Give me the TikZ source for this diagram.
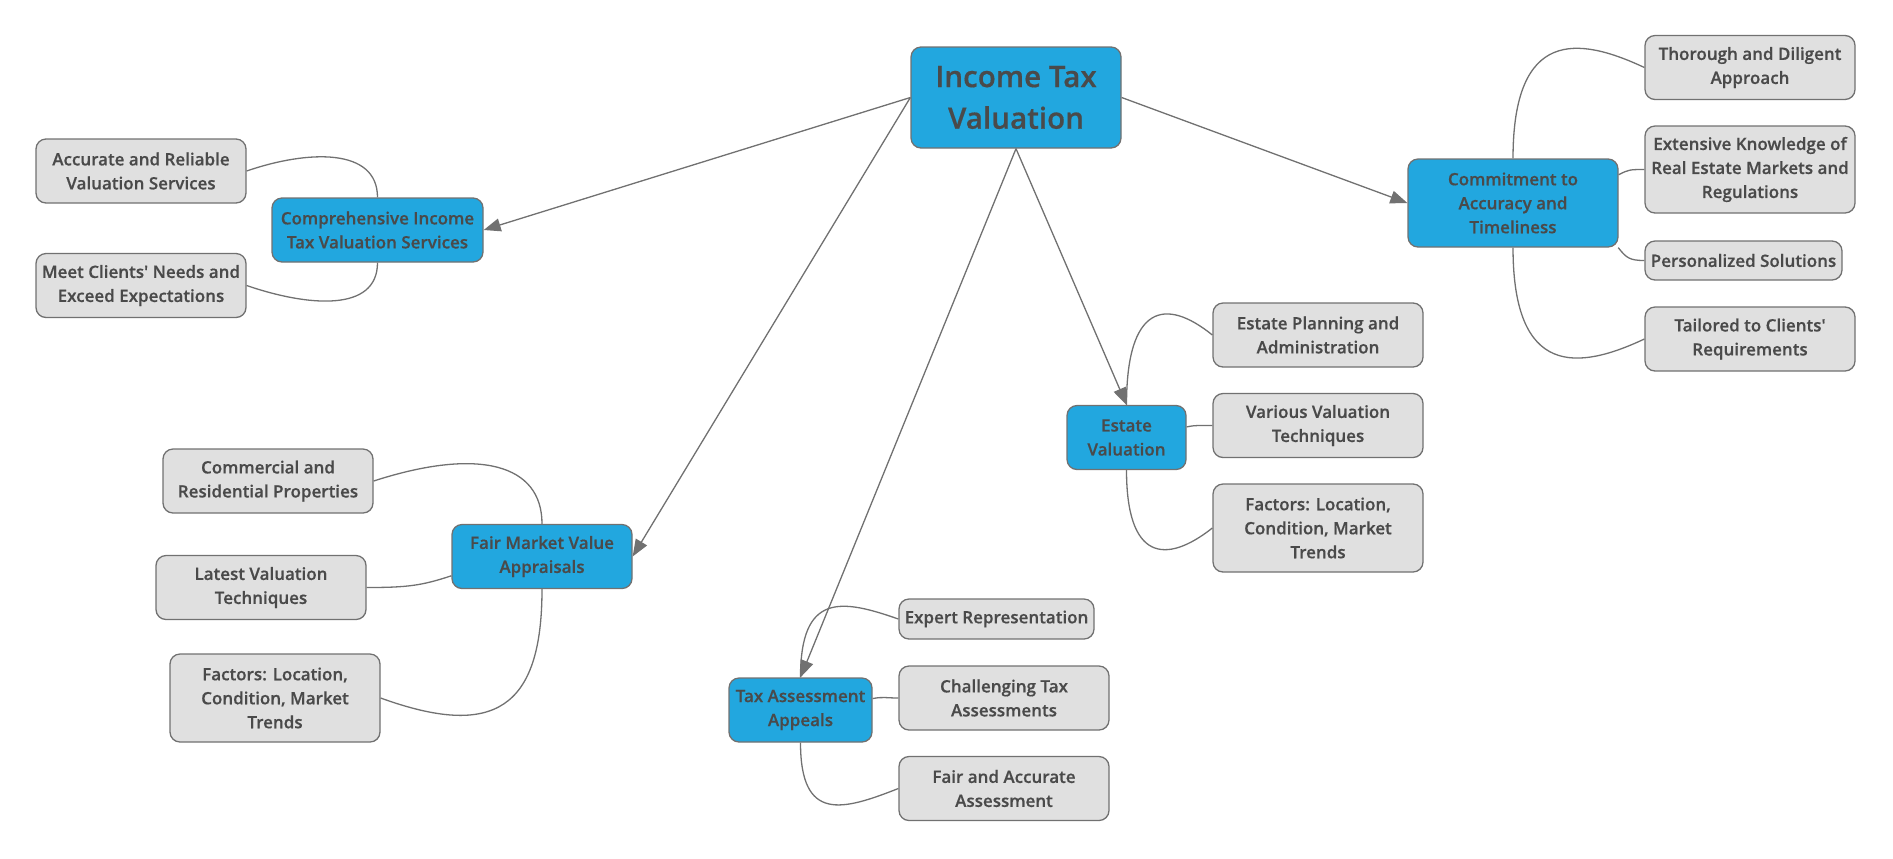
\documentclass[tikz,border=0pt]{standalone}
\usepackage{fontspec}
\IfFontExistsTF{Open Sans SemiBold}
  {\setmainfont{Open Sans}[Ligatures=TeXOff, BoldFont={Open Sans SemiBold}, BoldFeatures={FakeBold=0.5}]\def\leafpt{8.5}\def\rootpt{14.8}}
  {\IfFontExistsTF{Open Sans Semibold}
    {\setmainfont{Open Sans}[Ligatures=TeXOff, BoldFont={Open Sans Semibold}, BoldFeatures={FakeBold=0.5}]\def\leafpt{8.5}\def\rootpt{14.8}}
    {\setmainfont{Open Sans}[Ligatures=TeXOff, BoldFont={Open Sans Bold}]\def\leafpt{8.1}\def\rootpt{14.1}}}
\usepackage{tikz}
\usetikzlibrary{arrows.meta}
\usepackage{xcolor}
\definecolor{mmblue}{HTML}{22A7DF}
\definecolor{mmleaf}{HTML}{E0E0E0}
\definecolor{mmline}{HTML}{717171}
\definecolor{mmtext}{HTML}{4A4A4A}
\tikzset{
  rootbox/.style  = {draw=mmline, fill=mmblue, line width=0.65pt, rounded corners=5pt,
                     minimum width=105pt, minimum height=50.5pt, align=center, text=mmtext,
                     inner sep=0pt, font=\bfseries\fontsize{\rootpt}{20.8}\selectfont},
  hubbox/.style   = {draw=mmline, fill=mmblue, line width=0.65pt, rounded corners=5pt,
                     minimum width=105pt, minimum height=32pt, align=center, text=mmtext,
                     inner sep=0pt, font=\bfseries\fontsize{\leafpt}{12}\selectfont},
  leafbox/.style  = {hubbox, fill=mmleaf},
  arrowline/.style = {-{Triangle[length=8.5pt,width=6.5pt]}, draw=mmline, fill=mmline, line width=0.65pt},
  twig/.style     = {draw=mmline, line width=0.65pt},
}

\begin{document}
\begin{tikzpicture}[x=0.5pt,y=-0.5pt]
\useasboundingbox (0,0) rectangle (1893,858);
% root
\node[rootbox] (root) at (1016,97.5) {Income Tax\\Valuation};
% left top branch
\node[hubbox, minimum width=105.5pt] (comp) at (377.5,230) {Comprehensive Income\\Tax Valuation Services};
\node[leafbox] (acc) at (141,171) {Accurate and Reliable\\Valuation Services};
\node[leafbox] (meet) at (141,285.5) {Meet Clients' Needs and\\Exceed Expectations};
% right branch
\node[hubbox, minimum height=44pt] (commit) at (1513,203) {Commitment to\\Accuracy and\\Timeliness};
\node[leafbox] (thor) at (1750,67.5) {Thorough and Diligent\\Approach};
\node[leafbox, minimum height=43.5pt] (ext) at (1750,169.5) {Extensive Knowledge of\\Real Estate Markets and\\Regulations};
\node[leafbox, minimum width=98.5pt, minimum height=19.5pt] (pers) at (1743.5,260.5) {Personalized Solutions};
\node[leafbox] (tail) at (1750,339) {Tailored to Clients'\\Requirements};
% estate branch
\node[hubbox, minimum width=59.5pt] (estv) at (1126.5,437.5) {Estate\\Valuation};
\node[leafbox] (estp) at (1318,335) {Estate Planning and\\Administration};
\node[leafbox] (vart) at (1318,425.5) {Various Valuation\\Techniques};
\node[leafbox, minimum height=44pt] (efac) at (1318,528) {Factors: Location,\\Condition, Market\\Trends};
% fair market branch
\node[hubbox, minimum width=90pt] (fmv) at (542,556.5) {Fair Market Value\\Appraisals};
\node[leafbox] (comm) at (268,481) {Commercial and\\Residential Properties};
\node[leafbox] (lat) at (261,587.5) {Latest Valuation\\Techniques};
\node[leafbox, minimum height=44pt] (ffac) at (275,698) {Factors: Location,\\Condition, Market\\Trends};
% appeals branch
\node[hubbox, minimum width=71.5pt] (tax) at (800.5,710) {Tax Assessment\\Appeals};
\node[leafbox, minimum width=97.5pt, minimum height=20pt] (exp) at (996.5,619) {Expert Representation};
\node[leafbox] (chal) at (1004,698) {Challenging Tax\\Assessments};
\node[leafbox] (fair) at (1004,788.5) {Fair and Accurate\\Assessment};

% main arrows
\draw[arrowline] (root.west) -- (comp.east);
\draw[arrowline] (root.west) -- (fmv.east);
\draw[arrowline] (root.south) -- (tax.north);
\draw[arrowline] (root.south) -- (estv.north);
\draw[arrowline] (root.east) -- (commit.west);

% leaf curves
\draw[twig] (comp.north) .. controls +(0,-50) and +(61,-21) .. (acc.east);
\draw[twig] (comp.south) .. controls +(0,50) and +(61,21) .. (meet.east);
\draw[twig] (commit.north) .. controls +(0,-130) and +(-66,-31) .. (thor.west);
\draw[twig] (commit.15) .. controls +(10,-5) and +(-15,0) .. (ext.west);
\draw[twig] (commit.-23) .. controls +(8,10) and +(-15,0) .. (pers.west);
\draw[twig] (commit.south) .. controls +(0,130) and +(-66,31) .. (tail.west);
\draw[twig] (estv.north) .. controls +(0,-100) and +(-47,-38) .. (estp.west);
\draw[twig] (estv.10) .. controls +(10,-2) and +(-12,0) .. (vart.west);
\draw[twig] (estv.south) .. controls +(0,90) and +(-47,37) .. (efac.west);
\draw[twig] (fmv.north) .. controls +(0,-60) and +(105,-34) .. (comm.east);
\draw[twig] (fmv.192) .. controls +(-30,10) and +(40,0) .. (lat.east);
\draw[twig] (fmv.south) .. controls +(0,120) and +(113,41) .. (ffac.east);
\draw[twig] (tax.north) .. controls +(0,-85) and +(-57,-20) .. (exp.west);
\draw[twig] (tax.9) .. controls +(10,-2) and +(-12,0) .. (chal.west);
\draw[twig] (tax.south) .. controls +(0,80) and +(-56,22) .. (fair.west);
\end{tikzpicture}
\end{document}
